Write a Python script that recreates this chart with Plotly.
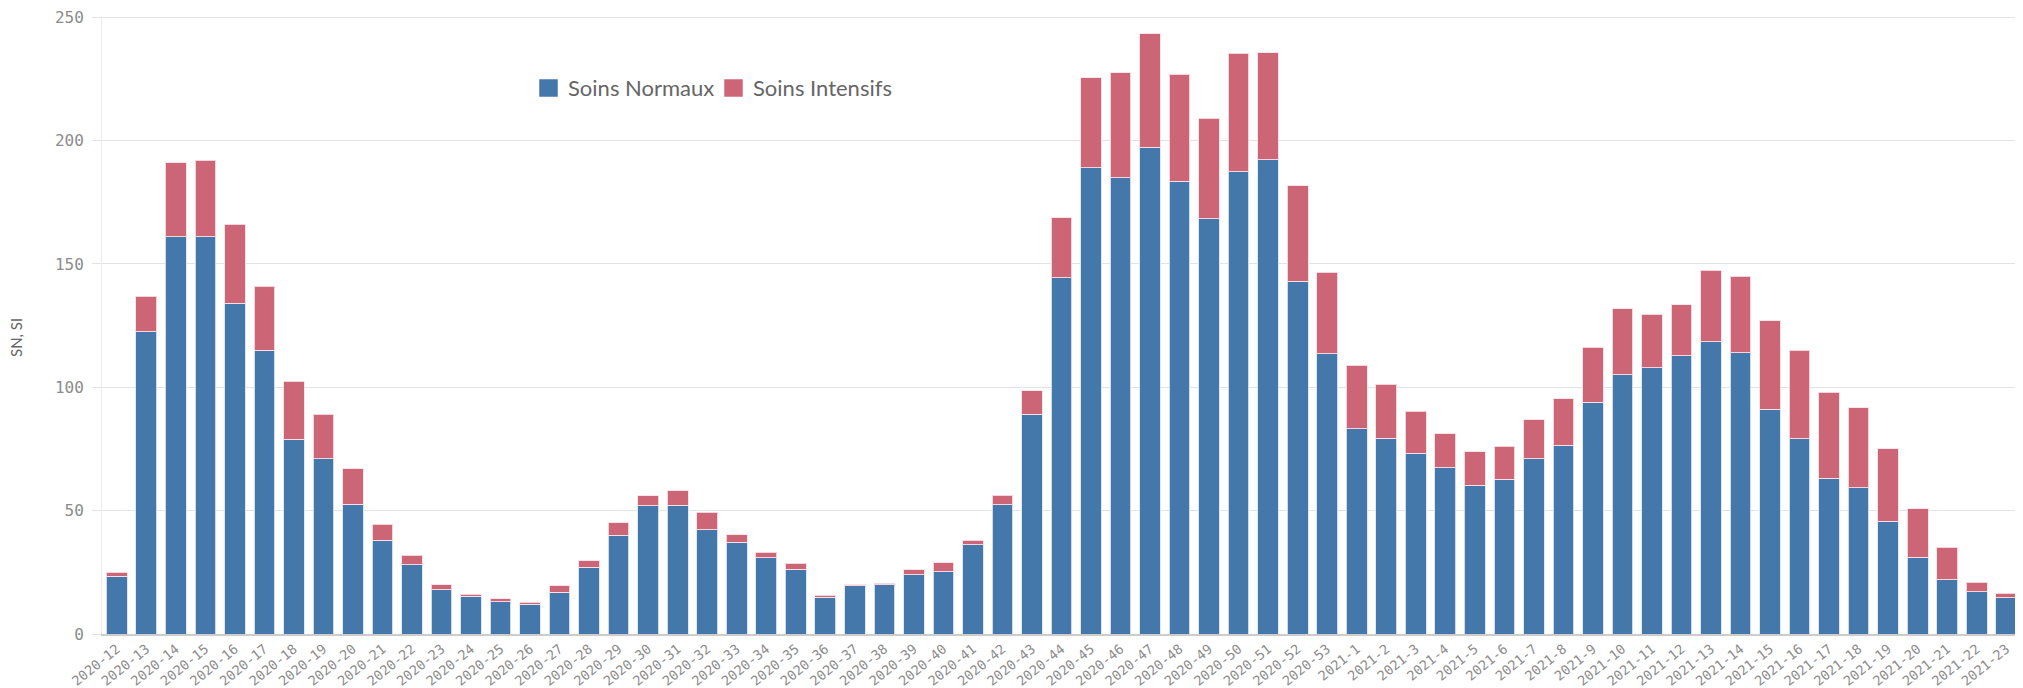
import plotly.graph_objects as go

weeks = [f"2020-{w}" for w in range(12, 54)] + [f"2021-{w}" for w in range(1, 24)]

soins_normaux = [23.5, 122.5, 161, 161, 134, 115, 79, 71, 52.5, 38, 28, 18, 15.4, 13, 12,
                 17, 27.1, 40, 51.9, 52.2, 42.3, 37.1, 30.9, 26.3, 14.9, 19.6, 20, 24, 25.3,
                 36.2, 52.4, 89, 144.4, 188.9, 184.9, 197.4, 183.5, 168.4, 187.3, 192.3, 142.9,
                 113.5, 83.2, 79.3, 73.2, 67.3, 60.3, 62.7, 71.1, 76.6, 93.9, 105, 108, 112.7,
                 118.5, 114.1, 91.1, 79.2, 63.2, 59.3, 45.7, 31.2, 21.9, 17.2, 14.6]

soins_intensifs = [1.5, 14.5, 30, 31, 32, 26, 23.5, 18, 14.5, 6.4, 4, 2, 0.8, 1.3, 0.8,
                   2.5, 2.6, 5, 4.1, 5.9, 7, 3.1, 2.3, 2.3, 0.8, 0.3, 0.6, 2, 3.6,
                   1.9, 3.8, 9.6, 24.4, 36.6, 42.5, 46, 43.3, 40.7, 48.1, 43.4, 38.8,
                   33.1, 25.8, 22, 17, 13.8, 13.6, 13.4, 15.8, 18.7, 22.3, 26.8, 21.7, 20.8,
                   28.9, 31, 35.9, 35.8, 34.8, 32.5, 29.3, 19.5, 13.2, 3.7, 1.9]

y_ticks = [0, 50, 100, 150, 200, 250]

series_names = ["Soins Normaux", "Soins Intensifs"]
BLUE = "#4477aa"
RED = "#cc6677"

fig = go.Figure()
fig.add_trace(go.Bar(x=weeks, y=soins_normaux, name=series_names[0],
                     marker=dict(color=BLUE, line=dict(color="rgba(220,230,245,0.9)", width=1))))
fig.add_trace(go.Bar(x=weeks, y=soins_intensifs, name=series_names[1],
                     marker=dict(color=RED, line=dict(color="rgba(250,225,230,0.9)", width=1))))

L, R, T, B = 94, 10, 8, 62
W, H = 2023, 688
pw = W - L - R
ph = H - T - B


def px_x(x):
    return (x - L) / pw


def px_y(y):
    return (H - B - y) / ph


fig.update_layout(
    barmode="stack",
    bargap=0.3,
    width=W, height=H,
    margin=dict(l=L, r=R, t=T, b=B, pad=0, autoexpand=False),
    paper_bgcolor="white",
    plot_bgcolor="white",
    font=dict(family="DejaVu Sans Mono", color="#8c8c8c"),
    showlegend=False,
    xaxis=dict(type="category", tickangle=-39, automargin=False,
               tickfont=dict(family="DejaVu Sans Mono", size=13.5, color="#8c8c8c"),
               showline=True, linecolor="#cccccc", linewidth=2,
               showgrid=False, ticks="",
               ticklabeloverflow="allow",
               range=[-0.5, len(weeks) - 0.5]),
    yaxis=dict(range=[0, 250.5], tickvals=y_ticks, ticktext=[str(v) for v in y_ticks],
               automargin=False, ticklabeloverflow="allow",
               tickfont=dict(family="DejaVu Sans Mono", size=16, color="#8c8c8c"),
               showgrid=True, gridcolor="#e3e3e3", gridwidth=1,
               ticks="outside", ticklen=9, tickcolor="#e3e3e3",
               ticklabelstandoff=5,
               showline=True, linecolor="#ececec", linewidth=1,
               zeroline=False),
)

# custom legend (pixel-positioned)
legend_items = [(531, series_names[0], BLUE), (716, series_names[1], RED)]
for x0, name, col in legend_items:
    fig.add_shape(type="rect", xref="paper", yref="paper",
                  x0=px_x(x0), x1=px_x(x0 + 19), y0=px_y(89), y1=px_y(71),
                  fillcolor=col, line=dict(color="rgba(255,255,255,0.5)", width=1))
    fig.add_annotation(text=name, xref="paper", yref="paper",
                       x=px_x(x0 + 27), y=px_y(80), xanchor="left", yanchor="middle",
                       showarrow=False,
                       font=dict(family="Lato", size=22, color="#666666"))

fig.add_annotation(text="SN, SI", xref="paper", yref="paper",
                   x=px_x(8), y=px_y(330), xanchor="center", yanchor="middle",
                   textangle=-90, showarrow=False,
                   font=dict(family="Lato", size=15, color="#666666"))

fig.write_html("out.html")
